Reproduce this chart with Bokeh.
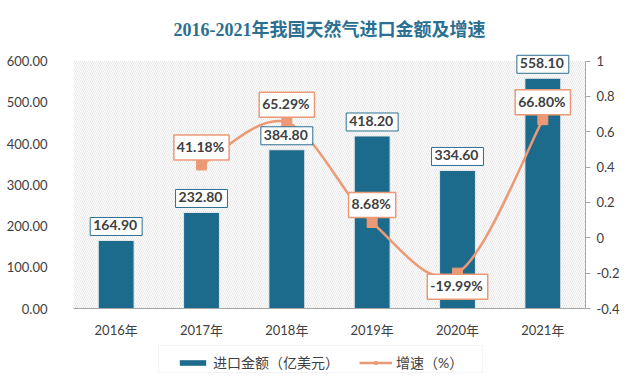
from bokeh.plotting import figure
from bokeh.layouts import column
from bokeh.models import (Range1d, LinearAxis, FixedTicker, Label, BoxAnnotation,
                          Legend, LegendItem)
from bokeh.embed import file_html
from bokeh.resources import INLINE

years = ["2016年", "2017年", "2018年", "2019年", "2020年", "2021年"]
amount = [164.90, 232.80, 384.80, 418.20, 334.60, 558.10]
growth_years_idx = [1, 2, 3, 4, 5]
growth = [0.4118, 0.6529, 0.0868, -0.1999, 0.6680]
growth_labels = ["41.18%", "65.29%", "8.68%", "-19.99%", "66.80%"]
growth_label_side = ["above", "above", "above", "below", "above"]
left_ticks = [0, 100, 200, 300, 400, 500, 600]
right_ticks = [-0.4, -0.2, 0, 0.2, 0.4, 0.6, 0.8, 1]
series_names = ["进口金额（亿美元）", "增速（%）"]

BAR = "#1c6a8c"
LINE = "#ec9a76"
TXT = "#404040"
FONT = "Lato, 'Noto Sans CJK SC'"

L_MAX = 600
L_TOP = 640                      # headroom so labels above the top are not clipped
R_MIN, R_MAX = -0.4, 1.0
R_TOP = R_MIN + (R_MAX - R_MIN) * L_TOP / L_MAX

W = 630
FRAME_L, FRAME_R = 73, 585
p = figure(width=W, height=340, output_backend="svg", toolbar_location=None,
           x_range=Range1d(-0.5, 5.5), y_range=Range1d(0, L_TOP),
           min_border_left=FRAME_L, min_border_right=W - FRAME_R, min_border_top=44,
           min_border_bottom=30)
p.extra_y_ranges = {"pct": Range1d(R_MIN, R_TOP)}
p.outline_line_color = None
p.xgrid.visible = False
p.ygrid.visible = False
p.background_fill_color = "white"
p.border_fill_color = "white"

p.title.text = "2016-2021年我国天然气进口金额及增速"
p.title.align = "center"
p.title.text_color = "#2b6f92"
p.title.text_font = "'Liberation Serif', 'Noto Sans CJK SC'"
p.title.text_font_size = "18px"
p.title.text_font_style = "bold"
p.title.offset = 0

# hatched plot background (only up to the axis maximum)
p.add_layout(BoxAnnotation(top=L_MAX, fill_color="white", fill_alpha=1, line_color=None,
                           hatch_pattern="\\", hatch_color="#dcdcdc", hatch_scale=4,
                           hatch_weight=0.7, level="underlay"))

xs = list(range(len(years)))
p.vbar(x=xs, top=amount, width=0.42, fill_color=BAR, line_color="#e8e8e8", line_width=1)

# smooth curve (bezier through points)
gx = growth_years_idx
gy = growth
n = len(gx)
x0, y0, x1, y1, cx0, cy0, cx1, cy1 = [], [], [], [], [], [], [], []
for i in range(n - 1):
    pxm, pym = (gx[i - 1], gy[i - 1]) if i > 0 else (gx[i], gy[i])
    pxp, pyp = (gx[i + 2], gy[i + 2]) if i + 2 < n else (gx[i + 1], gy[i + 1])
    x0.append(gx[i]); y0.append(gy[i]); x1.append(gx[i + 1]); y1.append(gy[i + 1])
    cx0.append(gx[i] + (gx[i + 1] - pxm) / 6); cy0.append(gy[i] + (gy[i + 1] - pym) / 6)
    cx1.append(gx[i + 1] - (pxp - gx[i]) / 6); cy1.append(gy[i + 1] - (pyp - gy[i]) / 6)
p.bezier(x0=x0, y0=y0, x1=x1, y1=y1, cx0=cx0, cy0=cy0, cx1=cx1, cy1=cy1,
         line_color=LINE, line_width=2.5, y_range_name="pct")
p.scatter(x=gx, y=gy, marker="square", size=10, fill_color=LINE, line_color=LINE,
          y_range_name="pct")

# axes
p.yaxis.ticker = FixedTicker(ticks=left_ticks)
p.yaxis.bounds = (0, L_MAX)
p.yaxis.major_label_overrides = {t: f"{t:.2f}" for t in left_ticks}
p.yaxis.axis_line_color = None
p.yaxis.major_tick_line_color = None
p.yaxis.minor_tick_line_color = None
p.yaxis.major_label_text_font = FONT
p.yaxis.major_label_text_font_size = "13px"
p.yaxis.major_label_text_color = TXT
p.yaxis.major_label_standoff = 20

ra = LinearAxis(y_range_name="pct", ticker=FixedTicker(ticks=right_ticks), bounds=(R_MIN, R_MAX))
ra.major_label_overrides = {t: (f"{t:g}") for t in right_ticks}
ra.axis_line_color = "#a6a6a6"
ra.major_tick_line_color = "#a6a6a6"
ra.major_tick_out = 5
ra.major_tick_in = 0
ra.minor_tick_line_color = None
ra.major_label_text_font = FONT
ra.major_label_text_font_size = "13px"
ra.major_label_text_color = TXT
ra.major_label_standoff = 6
p.add_layout(ra, "right")

p.xaxis.ticker = FixedTicker(ticks=xs)
p.xaxis.major_label_overrides = {i: y for i, y in enumerate(years)}
p.xaxis.axis_line_color = "#a6a6a6"
p.xaxis.major_tick_line_color = None
p.xaxis.minor_tick_line_color = None
p.xaxis.major_label_text_font = FONT
p.xaxis.major_label_text_font_size = "13px"
p.xaxis.major_label_text_color = TXT
p.xaxis.major_label_standoff = 7

# data labels
for i, v in enumerate(amount):
    p.add_layout(Label(x=i, y=v, text=f"{v:.2f}", text_align="center", text_baseline="bottom",
                       y_offset=5, text_font=FONT, text_font_size="14px",
                       text_font_style="bold", text_color=TXT,
                       background_fill_color="white", border_line_color="#2b6f92",
                       border_line_width=1, padding=(3, 5, 3, 5)))
for xi, v, t, side in zip(gx, gy, growth_labels, growth_label_side):
    if side == "above":
        base, off = "bottom", 5
    else:
        base, off = "top", -1
    p.add_layout(Label(x=xi, y=v, y_range_name="pct", text=t, text_align="center",
                       text_baseline=base, y_offset=off, text_font=FONT,
                       text_font_size="14px", text_font_style="bold", text_color=TXT,
                       background_fill_color="white", border_line_color=LINE,
                       border_line_width=1.5, padding=(3, 5, 3, 5)))

# legend in its own small figure below (its frame is aligned with the main frame);
# its ranges are in page pixels so that the frame box can be placed directly
LH = 44
lf = figure(width=W, height=LH, output_backend="svg", toolbar_location=None,
            x_range=Range1d(FRAME_L, FRAME_R), y_range=Range1d(340 + LH, 340),
            x_axis_location=None, y_axis_location=None,
            min_border_left=0, min_border_right=0, min_border_top=0, min_border_bottom=0)
lf.outline_line_color = None
lf.xgrid.visible = False
lf.ygrid.visible = False
lf.add_layout(BoxAnnotation(left=158, right=482, top=345, bottom=372, fill_color="white",
                            fill_alpha=1, line_color="#d9d9d9", line_width=1, level="underlay"))
# proxy glyphs placed outside the visible range, used only for the legend swatches
r_bar = lf.vbar(x=[0], top=[0], bottom=[1], width=1, fill_color=BAR, line_color=None)
r_line = lf.line(x=[0, 1], y=[0, 0], line_color=LINE, line_width=2.5)
r_mark = lf.scatter(x=[0], y=[0], marker="square", size=9, fill_color=LINE, line_color=LINE)
legend = Legend(items=[LegendItem(label=series_names[0], renderers=[r_bar]),
                       LegendItem(label=series_names[1], renderers=[r_line, r_mark])],
                orientation="horizontal", location=(103, 12),
                label_text_font=FONT, label_text_font_size="14px", label_text_color=TXT,
                border_line_color=None, background_fill_alpha=0,
                glyph_width=33, glyph_height=7, label_standoff=4,
                spacing=20, padding=5, margin=0)
lf.add_layout(legend, "center")

open("out.html", "w").write(file_html(column(p, lf, spacing=0), INLINE))
